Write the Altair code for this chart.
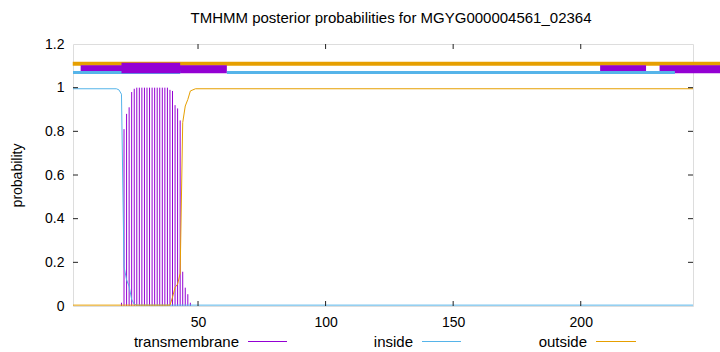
import altair as alt
import pandas as pd

TITLE = "TMHMM posterior probabilities for MGYG000004561_02364"

# posterior probabilities
tm_x = [20, 21, 22, 23, 24, 25, 26, 27, 28, 29, 30, 31, 32, 33, 34, 35, 36, 37,
        38, 39, 40, 41, 42, 43, 44, 45, 46, 47]
tm_y = [0.015, 0.81, 0.88, 0.91, 0.98, 0.995, 1.0, 1.0, 1.0, 1.0, 1.0, 1.0, 1.0,
        1.0, 1.0, 1.0, 1.0, 1.0, 1.0, 0.99, 0.985, 0.92, 0.905, 0.85, 0.157,
        0.084, 0.054, 0.015]
inside_x = [1, 18, 19, 20, 21, 22, 23, 24, 25, 26, 244]
inside_y = [0.995, 0.995, 0.99, 0.97, 0.18, 0.12, 0.09, 0.03, 0.008, 0.004, 0.004]
outside_x = [1, 39, 40, 41, 42, 43, 44, 45, 46, 47, 48, 49, 244]
outside_y = [0.004, 0.004, 0.04, 0.085, 0.1, 0.15, 0.84, 0.916, 0.946, 0.985,
             0.99, 0.995, 0.995]

x_ticks = [50, 100, 150, 200]
y_ticks = [0, 0.2, 0.4, 0.6, 0.8, 1.0, 1.2]
legend_labels = ["transmembrane", "inside", "outside"]
colors = ["#9400d3", "#56b4e9", "#e69f00"]

# topology bars at the top (start, end)
outside_bar_s = [0.9]
outside_bar_e = [262]
inside_bar_s = [1, 61.3]
inside_bar_e = [43, 236.9]
tm_thin_s = [4, 207.6, 230.9]
tm_thin_e = [61.3, 225.6, 262]
tm_tall_s = [20]
tm_tall_e = [43]
LV_OUT = 1.1095
LV_IN = 1.0695
BAND_LO, BAND_HI = 1.0658, 1.1025
TALL_LO, TALL_HI = 1.0658, 1.1144

W, H = 620, 262
FONT = "Liberation Sans"

xscale = alt.Scale(domain=[1, 244], nice=False, zero=False)
yscale = alt.Scale(domain=[0, 1.2], nice=False, zero=False)
xaxis = alt.Axis(values=x_ticks, ticks=False, domain=False, grid=False,
                 labelFontSize=14, labelPadding=9, title=None, labelFlush=False)
yaxis = alt.Axis(values=y_ticks, format="~g", ticks=False, domain=False, grid=False,
                 labelFontSize=14, labelPadding=9, title="probability",
                 titleFontSize=14, titleFontWeight="normal", titlePadding=20)


def X(f):
    return alt.X(f, type="quantitative", scale=xscale, axis=xaxis)


def Y(f):
    return alt.Y(f, type="quantitative", scale=yscale, axis=yaxis)


tm_df = pd.DataFrame({"x": tm_x, "y": tm_y})
in_df = pd.DataFrame({"x": inside_x, "y": inside_y})
out_df = pd.DataFrame({"x": outside_x, "y": outside_y})

impulses = alt.Chart(tm_df).mark_rule(color=colors[0], strokeWidth=1).encode(
    x=X("x"), y=Y("y"), y2=alt.datum(0))
inside_line = alt.Chart(in_df).mark_line(color=colors[1], strokeWidth=1).encode(
    x=X("x"), y=Y("y"))
outside_line = alt.Chart(out_df).mark_line(color=colors[2], strokeWidth=1).encode(
    x=X("x"), y=Y("y"))

ob = pd.DataFrame({"s": outside_bar_s, "e": outside_bar_e, "v": [LV_OUT] * len(outside_bar_s)})
ib = pd.DataFrame({"s": inside_bar_s, "e": inside_bar_e, "v": [LV_IN] * len(inside_bar_s)})
thin = pd.DataFrame({"s": tm_thin_s, "e": tm_thin_e,
                     "lo": [BAND_LO] * len(tm_thin_s), "hi": [BAND_HI] * len(tm_thin_s)})
tall = pd.DataFrame({"s": tm_tall_s, "e": tm_tall_e,
                     "lo": [TALL_LO] * len(tm_tall_s), "hi": [TALL_HI] * len(tm_tall_s)})

out_bar = alt.Chart(ob).mark_rule(color=colors[2], strokeWidth=4).encode(
    x=X("s"), x2="e", y=Y("v"))
thin_bar = alt.Chart(thin).mark_rect(color=colors[0]).encode(
    x=X("s"), x2="e", y=Y("lo"), y2="hi")
in_bar = alt.Chart(ib).mark_rule(color=colors[1], strokeWidth=3).encode(
    x=X("s"), x2="e", y=Y("v"))
tall_bar = alt.Chart(tall).mark_rect(color=colors[0]).encode(
    x=X("s"), x2="e", y=Y("lo"), y2="hi")

# inward tick marks on all four sides
xt = pd.DataFrame({"t": x_ticks})
yt = pd.DataFrame({"t": y_ticks[1:-1]})
tick_color = "#222222"
xt_bot = alt.Chart(xt).mark_rule(color=tick_color).encode(
    x=X("t"), y=alt.value(H), y2=alt.value(H - 5))
xt_top = alt.Chart(xt).mark_rule(color=tick_color).encode(
    x=X("t"), y=alt.value(0), y2=alt.value(5))
yt_left = alt.Chart(yt).mark_rule(color=tick_color).encode(
    y=Y("t"), x=alt.value(0), x2=alt.value(5))
yt_right = alt.Chart(yt).mark_rule(color=tick_color).encode(
    y=Y("t"), x=alt.value(W), x2=alt.value(W - 5))

# legend below the plot (gnuplot style: label, then line sample)
one = pd.DataFrame({"k": [0]})
leg_text_right = [166, 340, 514]
leg_line = [(175, 214), (349, 388), (523, 563)]
leg_y = 297.5
legend_layers = []
for lab, col, tx, (l0, l1) in zip(legend_labels, colors, leg_text_right, leg_line):
    legend_layers.append(
        alt.Chart(one).mark_text(text=lab, align="right", baseline="middle",
                                 fontSize=15, font=FONT, color="black").encode(
            x=alt.value(tx), y=alt.value(leg_y)))
    legend_layers.append(
        alt.Chart(one).mark_rule(color=col, strokeWidth=1).encode(
            x=alt.value(l0), x2=alt.value(l1), y=alt.value(leg_y)))

chart = alt.layer(
    impulses, inside_line, outside_line,
    out_bar, thin_bar, in_bar, tall_bar,
    xt_bot, xt_top, yt_left, yt_right,
    *legend_layers
).properties(
    width=W, height=H,
    title=alt.TitleParams(TITLE, fontSize=15, fontWeight="normal", font=FONT,
                          anchor="middle", offset=11, dx=8, color="black"),
    autosize=alt.AutoSizeParams(type="none"),
    padding={"left": 73, "top": 44, "right": 27, "bottom": 46},
).configure_view(
    stroke="black", strokeWidth=1
).configure_axis(
    labelFont=FONT, titleFont=FONT, labelColor="black", titleColor="black"
).configure(background="white")

chart.save("out.html", embed_options={"renderer": "svg", "actions": False})
